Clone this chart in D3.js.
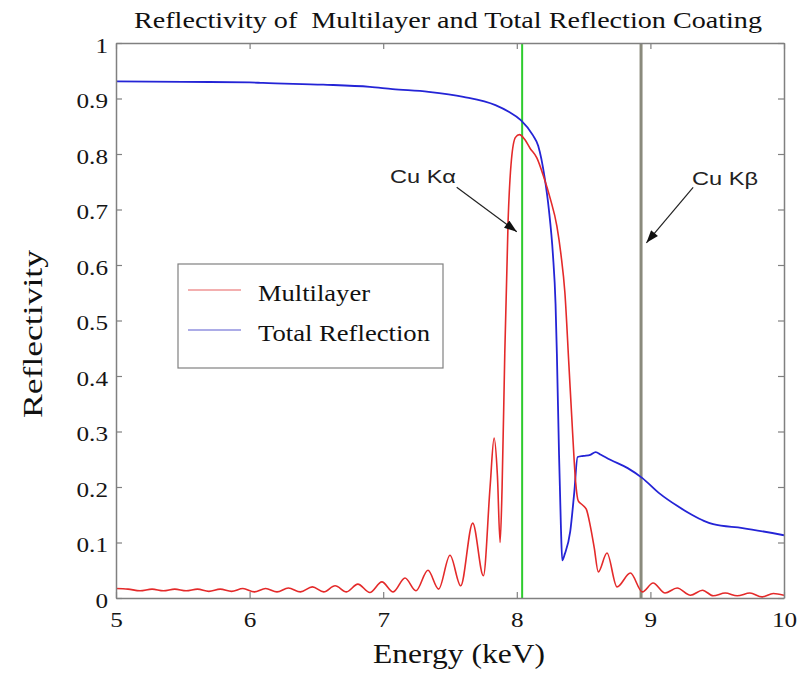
<!DOCTYPE html>
<html><head><meta charset="utf-8">
<script src="https://cdn.jsdelivr.net/npm/d3@7"></script>
<style>body{margin:0;background:#fff;} svg{display:block;}</style>
</head><body>
<svg id="chart" width="809" height="675"></svg>
<script>
// ---- data ----
const multilayerEnergy = [5.00,5.09,5.18,5.27,5.355,5.44,5.525,5.61,5.695,5.78,5.865,5.95,6.035,6.12,6.205,6.29,6.38,6.47,6.555,6.64,6.725,6.81,6.90,6.99,7.075,7.163,7.245,7.335,7.415,7.50,7.58,7.67,7.75,7.80,7.83,7.855,7.875,7.89,7.91,7.935,7.96,7.99,8.02,8.06,8.10,8.15,8.20,8.25,8.30,8.33,8.36,8.39,8.415,8.44,8.46,8.49,8.52,8.55,8.58,8.61,8.675,8.75,8.85,8.94,9.02,9.11,9.20,9.30,9.39,9.47,9.56,9.65,9.745,9.835,9.92,10.0];
const multilayerValue  = [0.017,0.016,0.013,0.016,0.013,0.016,0.013,0.016,0.012,0.016,0.012,0.017,0.011,0.017,0.011,0.018,0.011,0.020,0.011,0.022,0.011,0.025,0.010,0.029,0.011,0.036,0.013,0.050,0.016,0.077,0.022,0.135,0.040,0.20,0.288,0.22,0.10,0.20,0.44,0.68,0.79,0.83,0.835,0.826,0.81,0.793,0.76,0.72,0.67,0.62,0.55,0.42,0.31,0.21,0.175,0.168,0.16,0.13,0.09,0.047,0.081,0.02,0.045,0.011,0.027,0.009,0.018,0.005,0.014,0.004,0.009,0.004,0.009,0.002,0.008,0.005];

const totalEnergy = [5.00,5.5,6.0,6.1,6.55,6.9,7.07,7.34,7.6,7.84,7.94,8.03,8.12,8.16,8.21,8.24,8.27,8.29,8.30,8.316,8.33,8.34,8.36,8.40,8.43,8.455,8.50,8.55,8.59,8.63,8.70,8.83,8.94,9.07,9.20,9.31,9.40,9.47,9.69,10.0];
const totalValue  = [0.931,0.930,0.929,0.928,0.925,0.921,0.917,0.912,0.903,0.888,0.876,0.861,0.834,0.815,0.755,0.70,0.62,0.53,0.44,0.26,0.13,0.068,0.08,0.12,0.19,0.254,0.256,0.258,0.263,0.258,0.249,0.234,0.216,0.188,0.166,0.150,0.139,0.133,0.126,0.113];

const lineEnergies = [8.04, 8.93];           // Cu Ka, Cu Kb
const annotationText = ["Cu K\u03B1", "Cu K\u03B2"];
const annotationFrom = [[7.55, 0.74], [9.32, 0.74]];
const annotationTo   = [[8.00, 0.66], [8.97, 0.64]];

const xTicks = [5,6,7,8,9,10];
const xTickLabels = ["5","6","7","8","9","10"];
const yTicks = [0,0.1,0.2,0.3,0.4,0.5,0.6,0.7,0.8,0.9,1];
const yTickLabels = ["0","0.1","0.2","0.3","0.4","0.5","0.6","0.7","0.8","0.9","1"];
const seriesNames = ["Multilayer","Total Reflection"];

// ---- layout ----
const svg = d3.select("#chart");
const L = 116, T = 43, R = 784, B = 598;
const x = d3.scaleLinear().domain([5,10]).range([L,R]);
const y = d3.scaleLinear().domain([0,1]).range([B,T]);
const serif = "'Times New Roman','Liberation Serif',Tinos,serif";
const sans = "Arial,'Liberation Sans',sans-serif";
const axisColor = "#808080";
const SX = 1.2;

svg.append("clipPath").attr("id","clip").append("rect")
  .attr("x",L).attr("y",T).attr("width",R-L).attr("height",B-T);

// vertical emission lines
const lineColors = ["#2ecc2e","#8a8a7c"];
const lineWidths = [2, 3];
lineEnergies.forEach((e,i)=>{
  svg.append("line").attr("x1",x(e)).attr("x2",x(e)).attr("y1",y(1)).attr("y2",y(0))
    .attr("stroke",lineColors[i]).attr("stroke-width",lineWidths[i]);
});

const gen = d3.line().x(d=>x(d[0])).y(d=>y(d[1])).curve(d3.curveMonotoneX);
const ml = multilayerEnergy.map((e,i)=>[e,multilayerValue[i]]);
const tr = totalEnergy.map((e,i)=>[e,totalValue[i]]);
const gCurves = svg.append("g").attr("clip-path","url(#clip)");
gCurves.append("path").datum(tr).attr("d",gen).attr("fill","none")
  .attr("stroke","#2424d6").attr("stroke-width",1.8).attr("stroke-linejoin","round");
gCurves.append("path").datum(ml).attr("d",gen).attr("fill","none")
  .attr("stroke","#e42a2a").attr("stroke-width",1.6).attr("stroke-linejoin","round");

// axes (ticks inward on all four sides)
function styleAxis(g){
  g.select(".domain").attr("stroke",axisColor).attr("stroke-width",1.5);
  g.selectAll(".tick line").attr("stroke",axisColor).attr("stroke-width",1.2);
}
const gx = svg.append("g").attr("transform",`translate(0,${B})`)
  .call(d3.axisBottom(x).tickValues(xTicks).tickFormat((d,i)=>xTickLabels[i]).tickSizeInner(-6).tickSizeOuter(0).tickPadding(0));
styleAxis(gx);
gx.selectAll(".tick text").attr("y",0).attr("dy",null).attr("transform",`translate(0,29) scale(${SX},1)`)
  .attr("font-family",serif).attr("font-size",21).attr("fill","#151515");
const gxt = svg.append("g").attr("transform",`translate(0,${T})`)
  .call(d3.axisTop(x).tickValues(xTicks).tickFormat("").tickSizeInner(-6).tickSizeOuter(0));
styleAxis(gxt);
const gy = svg.append("g").attr("transform",`translate(${L},0)`)
  .call(d3.axisLeft(y).tickValues(yTicks).tickFormat((d,i)=>yTickLabels[i]).tickSizeInner(-6).tickSizeOuter(0));
styleAxis(gy);
gy.selectAll(".tick text").attr("x",0).attr("dy",null).attr("y",0)
  .attr("transform",`translate(-8,9) scale(${SX},1)`)
  .attr("font-family",serif).attr("font-size",21).attr("fill","#151515");
const gyr = svg.append("g").attr("transform",`translate(${R},0)`)
  .call(d3.axisRight(y).tickValues(yTicks).tickFormat("").tickSizeInner(-6).tickSizeOuter(0));
styleAxis(gyr);

// title and axis labels
svg.append("text").attr("x",448).attr("y",28).attr("text-anchor","middle")
  .style("white-space","pre")
  .attr("font-family",serif).attr("font-size",23).attr("fill","#111")
  .attr("textLength",628).attr("lengthAdjust","spacingAndGlyphs")
  .text("Reflectivity of  Multilayer and Total Reflection Coating");
svg.append("text").attr("x",459).attr("y",663).attr("text-anchor","middle")
  .attr("font-family",serif).attr("font-size",27).attr("fill","#111")
  .attr("textLength",172).attr("lengthAdjust","spacingAndGlyphs")
  .text("Energy (keV)");
svg.append("text").attr("transform","translate(42,334) rotate(-90)").attr("text-anchor","middle")
  .attr("font-family",serif).attr("font-size",28).attr("fill","#111")
  .attr("textLength",168).attr("lengthAdjust","spacingAndGlyphs")
  .text("Reflectivity");

// legend
const lg = svg.append("g");
lg.append("rect").attr("x",178).attr("y",264).attr("width",265).attr("height",104)
  .attr("fill","#fff").attr("stroke",axisColor).attr("stroke-width",1.2);
const legColors = ["#e86060","#5a5ad0"];
const legLens = [112,172];
seriesNames.forEach((n,i)=>{
  const yy = 290 + i*40;
  lg.append("line").attr("x1",188).attr("x2",241).attr("y1",yy).attr("y2",yy)
    .attr("stroke",legColors[i]).attr("stroke-width",1.2);
  lg.append("text").attr("x",258).attr("y",yy+11).attr("font-family",serif).attr("font-size",23)
    .attr("fill","#111").attr("textLength",legLens[i]).attr("lengthAdjust","spacingAndGlyphs").text(n);
});

// annotations
svg.append("defs").append("marker").attr("id","arr").attr("viewBox","0 0 14 10")
  .attr("refX",14).attr("refY",5).attr("markerWidth",14).attr("markerHeight",9)
  .attr("markerUnits","userSpaceOnUse").attr("orient","auto")
  .append("path").attr("d","M0,0 L14,5 L0,10 Z").attr("fill","#111");
const annTextPos = [[390,183],[692,185]];
annotationText.forEach((t,i)=>{
  svg.append("line").attr("x1",x(annotationFrom[i][0])).attr("y1",y(annotationFrom[i][1]))
    .attr("x2",x(annotationTo[i][0])).attr("y2",y(annotationTo[i][1]))
    .attr("stroke","#222").attr("stroke-width",1.2).attr("marker-end","url(#arr)");
  svg.append("text").attr("x",annTextPos[i][0]).attr("y",annTextPos[i][1])
    .attr("font-family",sans).attr("font-size",19).attr("fill","#222")
    .attr("textLength",66).attr("lengthAdjust","spacingAndGlyphs").text(t);
});
</script>
</body></html>
